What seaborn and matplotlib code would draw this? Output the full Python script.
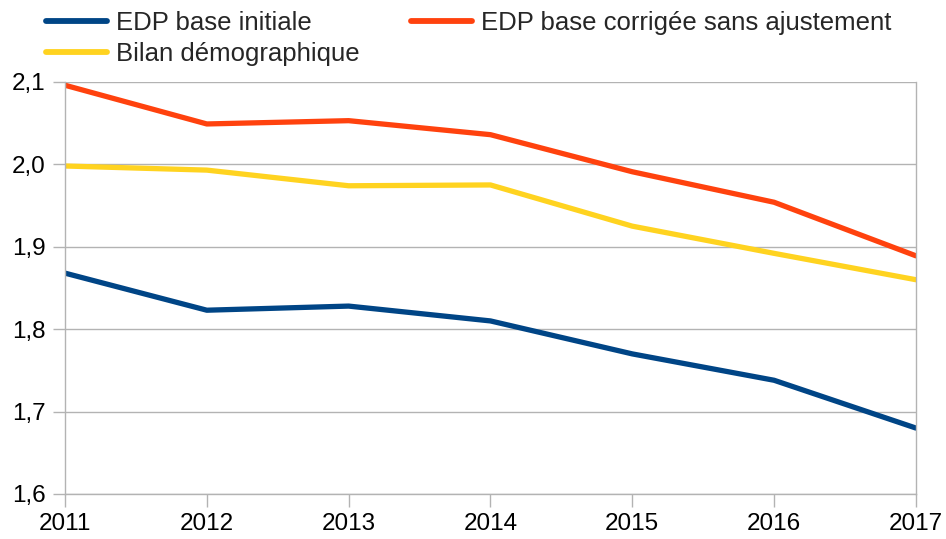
import pandas as pd
import seaborn as sns
from matplotlib import pyplot as plt

annees = [2011, 2012, 2013, 2014, 2015, 2016, 2017]
edp_initiale = [1.868, 1.823, 1.828, 1.810, 1.770, 1.738, 1.680]
edp_corrigee = [2.096, 2.049, 2.053, 2.036, 1.991, 1.954, 1.889]
bilan_demo = [1.998, 1.993, 1.974, 1.975, 1.925, 1.892, 1.860]

series = ["EDP base initiale", "EDP base corrigée sans ajustement", "Bilan démographique"]
couleurs = ["#004586", "#ff420e", "#ffd320"]

df = pd.DataFrame({
    "annee": annees * 3,
    "valeur": edp_initiale + edp_corrigee + bilan_demo,
    "serie": [series[0]] * 7 + [series[1]] * 7 + [series[2]] * 7,
})

sns.set_style("white")
plt.rcParams["font.family"] = ["Liberation Sans", "DejaVu Sans"]

fig = plt.figure(figsize=(9.46, 5.39), dpi=100)
ax = fig.add_axes([0.0687, 0.0835, 0.8995, 0.7645])

sns.lineplot(data=df, x="annee", y="valeur", hue="serie", hue_order=series,
             palette=couleurs, linewidth=3.8, ax=ax, legend=False)

ax.set_xlim(2011, 2017)
ax.set_ylim(1.6, 2.1)
ax.set_xticks(annees)
ax.set_yticks([1.6, 1.7, 1.8, 1.9, 2.0, 2.1])
ax.set_yticklabels(["1,6", "1,7", "1,8", "1,9", "2,0", "2,1"])
ax.yaxis.grid(True, color="#b3b3b3", linewidth=1)
ax.set_axisbelow(True)
ax.set_xlabel("")
ax.set_ylabel("")
for s in ["left", "right", "bottom"]:
    ax.spines[s].set_color("#b3b3b3")
    ax.spines[s].set_linewidth(1)
ax.spines["top"].set_visible(False)
ax.tick_params(axis="both", which="both", length=9, color="#b3b3b3",
               labelsize=17.5, labelcolor="black", direction="out", width=1,
               bottom=True, left=True)
ax.tick_params(axis="x", pad=5)
ax.tick_params(axis="y", pad=5)

# ordre colonne par colonne : initiale, bilan | corrigée
ordre = [0, 2, 1]
handles = [plt.Line2D([], [], color=couleurs[i], linewidth=4.2) for i in ordre]
fig.legend(handles, [series[i] for i in ordre], loc="upper left",
           bbox_to_anchor=(0.024, 1.022), ncol=2, frameon=False, fontsize=18.5,
           handlelength=2.37, handletextpad=0.35, columnspacing=2.0,
           labelspacing=0.28)

fig.savefig("out.png", dpi=100)
